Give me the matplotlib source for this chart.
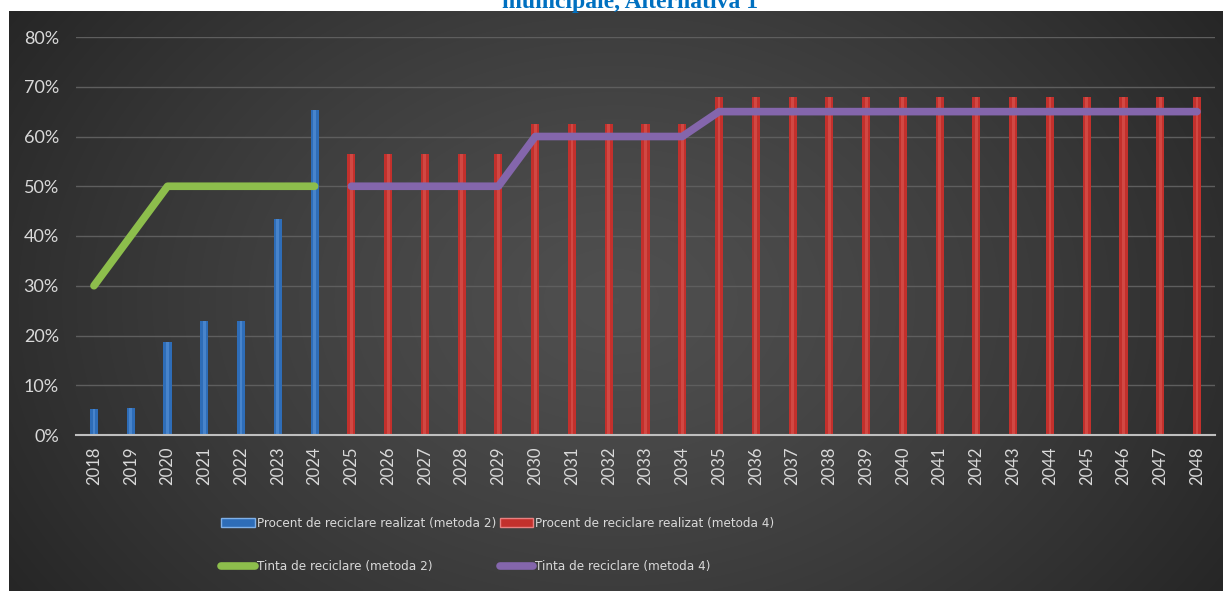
import numpy as np
import matplotlib
matplotlib.use("Agg")
import matplotlib.pyplot as plt
from matplotlib.lines import Line2D
from matplotlib.patches import Patch
from matplotlib import font_manager
from matplotlib.font_manager import FontProperties

# ---- data ----
years = [str(y) for y in range(2018, 2049)]
realizat_m2 = [0.053, 0.055, 0.186, 0.230, 0.230, 0.435, 0.653]          # 2018-2024
realizat_m4 = [0.565] * 5 + [0.625] * 5 + [0.68] * 14                     # 2025-2048
tinta_m2 = [0.30, 0.40, 0.50, 0.50, 0.50, 0.50, 0.50]                     # 2018-2024
tinta_m4 = [0.50] * 5 + [0.60] * 5 + [0.65] * 14                          # 2025-2048
y_ticks = [0, 0.1, 0.2, 0.3, 0.4, 0.5, 0.6, 0.7, 0.8]

labels = ["Procent de reciclare realizat (metoda 2)",
          "Procent de reciclare realizat (metoda 4)",
          "Tinta de reciclare (metoda 2)",
          "Tinta de reciclare (metoda 4)"]
title = "municipale, Alternativa 1"

has_cond = any(f.name == "DejaVu Sans" and str(f.stretch) in ("condensed", "semi-condensed")
               for f in font_manager.fontManager.ttflist)

W, H = 1223, 591
fig = plt.figure(figsize=(W / 100, H / 100), dpi=100)
fig.patch.set_facecolor("white")

# ---- dark radial background of chart area ----
bx0, by1 = 9 / W, (H - 11) / H
ax_bg = fig.add_axes([bx0, 0, 1 - bx0, by1], zorder=0)
gx, gy = np.meshgrid(np.linspace(-1, 1, 400), np.linspace(-1, 1, 200))
d = np.sqrt(gx ** 2 * 0.85 + gy ** 2 * 0.35)
d = np.clip(d / d.max(), 0, 1)
c_center, c_edge = 0.31, 0.15
val = c_center - (c_center - c_edge) * d ** 1.3
img = np.dstack([val, val, val])
ax_bg.imshow(img, aspect="auto", extent=[0, 1, 0, 1], interpolation="bilinear")
ax_bg.set_axis_off()

# ---- title (cut off at the top, as in the source) ----
fig.text(630 / W, 1 - 8 / H, title, ha="center", va="baseline",
         fontsize=17, fontweight="bold", color="#0070C0",
         family=["Liberation Serif", "DejaVu Serif"])

# ---- main axes ----
left, right = 75.6 / W, 1215.4 / W
bottom, top = (H - 435) / H, (H - 37) / H
ax = fig.add_axes([left, bottom, right - left, top - bottom], zorder=1)
ax.set_facecolor("none")

x = np.arange(len(years))
n2 = len(realizat_m2)
x2 = x[:n2]
x4 = x[n2:]

bw = 0.22
ax.bar(x2, realizat_m2, width=bw, color="#2E6DB8", zorder=3)
ax.bar(x2, realizat_m2, width=bw * 0.35, color="#5B95D8", alpha=0.6, zorder=3)
ax.bar(x4, realizat_m4, width=bw, color="#C3302C", zorder=3)
ax.bar(x4, realizat_m4, width=bw * 0.35, color="#E0605A", alpha=0.5, zorder=3)

ax.plot(x2, tinta_m2, color="#8DBE4C", lw=5.5, solid_capstyle="round",
        solid_joinstyle="round", zorder=4)
ax.plot(x4, tinta_m4, color="#8466AC", lw=5.5, solid_capstyle="round",
        solid_joinstyle="round", zorder=4)

ax.set_xlim(-0.5, len(years) - 0.5)
ax.set_ylim(0, 0.8)
ax.set_yticks(y_ticks)
ax.set_yticklabels([f"{int(round(v * 100))}%" for v in y_ticks])
ax.set_xticks(x)
ax.set_xticklabels(years, rotation=90)

font = ["Lato", "DejaVu Sans"]
for lab in ax.get_yticklabels():
    lab.set_family(font)
    lab.set_fontsize(13)
    lab.set_color("#D9D9D9")
for lab in ax.get_xticklabels():
    lab.set_family(font)
    lab.set_fontsize(12)
    lab.set_color("#D9D9D9")
ax.tick_params(axis="y", length=0, pad=12)
ax.tick_params(axis="x", length=0, pad=8)

ax.grid(axis="y", color="#5E5E5E", lw=1.0, zorder=0)
ax.set_axisbelow(True)
for s in ["top", "right", "left"]:
    ax.spines[s].set_visible(False)
ax.spines["bottom"].set_color("#BFBFBF")
ax.spines["bottom"].set_linewidth(1.5)
ax.spines["bottom"].set_zorder(5)

# ---- legend ----
handles = [
    Patch(facecolor="#2E6DB8", edgecolor="#7FB0E8", lw=1.0),
    Line2D([0], [0], color="#8DBE4C", lw=5.5, solid_capstyle="round"),
    Patch(facecolor="#C3302C", edgecolor="#E88080", lw=1.0),
    Line2D([0], [0], color="#8466AC", lw=5.5, solid_capstyle="round"),
]
leg_labels = [labels[0], labels[2], labels[1], labels[3]]
if has_cond:
    leg_prop = FontProperties(family="DejaVu Sans", stretch="condensed", size=9.6)
else:
    leg_prop = FontProperties(family=font, size=10.0)
leg = fig.legend(handles, leg_labels, ncol=2, loc="upper left",
                 bbox_to_anchor=(216 / W, 1 - 512 / H),
                 frameon=False, labelcolor="#D9D9D9", prop=leg_prop,
                 handlelength=2.5, handleheight=0.6, handletextpad=0.15,
                 columnspacing=0.3, labelspacing=2.25, borderaxespad=0)

fig.savefig("out.png", dpi=100, facecolor=fig.get_facecolor())
